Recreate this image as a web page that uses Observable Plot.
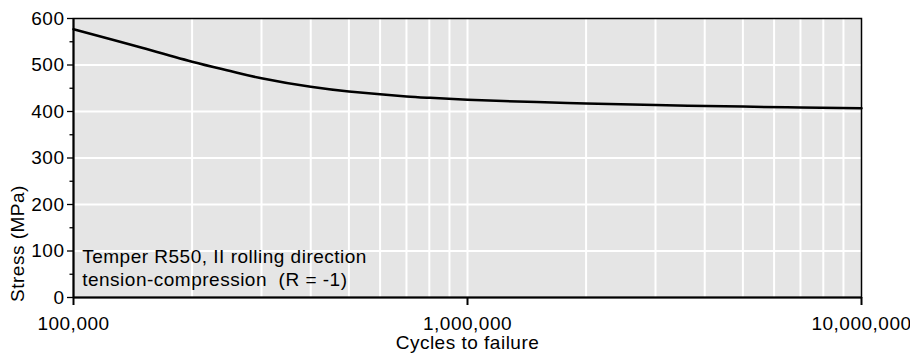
<!DOCTYPE html>
<html><head><meta charset="utf-8">
<script src="https://cdn.jsdelivr.net/npm/d3@7"></script>
<script src="https://cdn.jsdelivr.net/npm/@observablehq/plot@0.6"></script>
<style>body{margin:0;background:#fff} svg text{white-space:pre}</style>
</head><body><div id="chart"></div>
<script>
const cycles = [1e5, 1.25e5, 1.5e5, 2e5, 2.5e5, 3e5, 4e5, 5e5, 6e5, 7e5, 8e5, 1e6, 1.5e6, 2e6, 3e6, 5e6, 7e6, 1e7];
const stress = [577, 555, 536.5, 507, 487, 471.5, 453, 443, 437, 432.5, 429.5, 425.5, 420.2, 417.2, 413.8, 410.5, 408.6, 407];
const xTicks = [1e5, 1e6, 1e7];
const yTicks = [0, 100, 200, 300, 400, 500, 600];
const yMinorTicks = [50, 150, 250, 350, 450, 550];
const xGrid = [2e5, 3e5, 4e5, 5e5, 6e5, 7e5, 8e5, 9e5, 1e6, 2e6, 3e6, 4e6, 5e6, 6e6, 7e6, 8e6, 9e6];
const yGrid = [100, 200, 300, 400, 500];
const yLabel = "Stress (MPa)";
const xLabel = "Cycles to failure";
const note = ["Temper R550, II rolling direction", "tension-compression  (R = -1)"];

const data = cycles.map((c, i) => ({cycles: c, stress: stress[i]}));
const fmt = d3.format(",");
const font = {fontFamily: "Liberation Sans, Arial, sans-serif", fontSize: 19};

const chart = Plot.plot({
  width: 910, height: 353,
  marginLeft: 73, marginRight: 49, marginTop: 18, marginBottom: 56,
  style: {fontFamily: "Liberation Sans, Arial, sans-serif", fontSize: "19px", letterSpacing: "0.5px", color: "#000", background: "#fff", overflow: "visible"},
  x: {type: "log", domain: [1e5, 1e7]},
  y: {domain: [0, 600]},
  marks: [
    Plot.frame({fill: "#e5e5e5"}),
    Plot.ruleX(xGrid, {stroke: "#fff", strokeWidth: 2}),
    Plot.ruleY(yGrid, {stroke: "#fff", strokeWidth: 2}),
    Plot.text([note.join("\n")], {...font, frameAnchor: "bottom-left", textAnchor: "start", lineAnchor: "bottom", lineHeight: 1.18, dx: 8.7, dy: -12, fill: "#000"}),
    Plot.line(data, {x: "cycles", y: "stress", curve: "natural", stroke: "#000", strokeWidth: 2.5}),
    Plot.frame({stroke: "#000", strokeWidth: 1.5}),
    Plot.ruleX([1e5], {stroke: "#000", strokeWidth: 2}),
    Plot.ruleY([0], {stroke: "#000", strokeWidth: 2}),
    Plot.axisY({...font, ticks: yTicks, tickSize: 6, tickPadding: 3, strokeWidth: 1.3, label: null}),
    Plot.axisY({...font, ticks: yMinorTicks, tickSize: 3.5, strokeWidth: 1.3, tickFormat: () => "", label: null}),
    Plot.axisX({...font, ticks: xTicks, tickSize: 8, tickPadding: 10.5, strokeWidth: 2, tickFormat: fmt, label: null}),
    Plot.text([xLabel], {...font, frameAnchor: "bottom", lineAnchor: "middle", dy: 45, fill: "#000"}),
    Plot.text([yLabel], {...font, frameAnchor: "bottom-left", rotate: -90, textAnchor: "middle", lineAnchor: "middle", dx: -55.4, dy: -54, fill: "#000"})
  ]
});
document.getElementById("chart").appendChild(chart);
</script>
</body></html>
